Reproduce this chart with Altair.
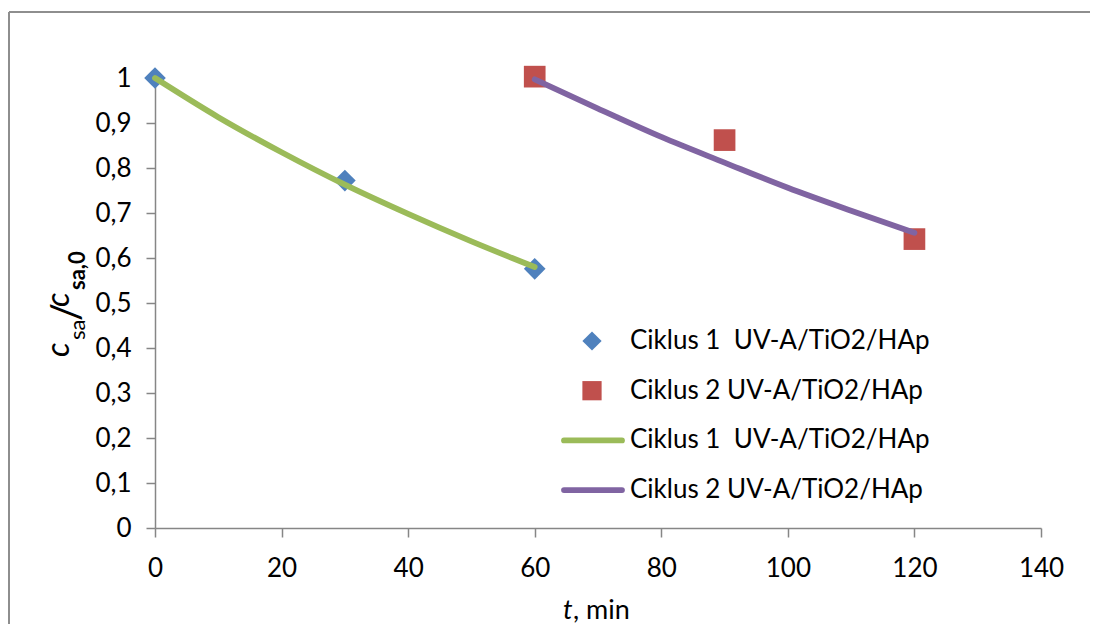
import altair as alt
import pandas as pd

# ---- data ----
series_names = ["Ciklus 1\u00a0 UV-A/TiO2/HAp", "Ciklus 2 UV-A/TiO2/HAp"]
fit_suffix = " (fit)"

t_meas_1 = [0, 30, 60]
v_meas_1 = [1.0, 0.772, 0.576]
t_meas_2 = [60, 90, 120]
v_meas_2 = [1.003, 0.862, 0.642]

t_fit_1 = [0, 10, 20, 30, 40, 50, 60]
v_fit_1 = [1.0, 0.913, 0.835, 0.763, 0.698, 0.637, 0.580]
t_fit_2 = [60, 70, 80, 90, 100, 110, 120]
v_fit_2 = [0.997, 0.932, 0.869, 0.812, 0.756, 0.705, 0.656]

x_ticks = [0, 20, 40, 60, 80, 100, 120, 140]
y_ticks = [0, 0.1, 0.2, 0.3, 0.4, 0.5, 0.6, 0.7, 0.8, 0.9, 1.0]

meas_colors = ["#4F81BD", "#C0504D"]
fit_colors = ["#9BBB59", "#8064A2"]
meas_shapes = ["diamond", "square"]

FONT = "Lato"
AXIS_GRAY = "#868686"

# ---- tables ----
fit_names = [n + fit_suffix for n in series_names]
keys = series_names + fit_names

pts = pd.DataFrame({
    "t": t_meas_1 + t_meas_2,
    "v": v_meas_1 + v_meas_2,
    "key": [series_names[0]] * len(t_meas_1) + [series_names[1]] * len(t_meas_2),
})
fits = pd.DataFrame({
    "t": t_fit_1 + t_fit_2,
    "v": v_fit_1 + v_fit_2,
    "key": [fit_names[0]] * len(t_fit_1) + [fit_names[1]] * len(t_fit_2),
})
leg = pd.DataFrame({
    "key": keys,
    "label": series_names + series_names,
    "row": list(range(len(keys))),
    "kind": ["point"] * len(series_names) + ["line"] * len(fit_names),
})

color_scale = alt.Scale(domain=keys, range=meas_colors + fit_colors)
shape_scale = alt.Scale(domain=series_names, range=meas_shapes)

x_enc = alt.X("t:Q", scale=alt.Scale(domain=[0, 140], nice=False),
              axis=alt.Axis(values=x_ticks, title=None, labelPadding=18, labelFlush=False))
y_enc = alt.Y("v:Q", scale=alt.Scale(domain=[0, 1], nice=False),
              axis=alt.Axis(values=y_ticks, title=None, labelPadding=15, labelFlush=False,
                            labelExpr="replace(format(datum.value, '.1~f'), '.', ',')"))

points = alt.Chart(pts).mark_point(filled=True, size=470, opacity=1).encode(
    x=x_enc, y=y_enc,
    color=alt.Color("key:N", scale=color_scale, legend=None),
    shape=alt.Shape("key:N", scale=shape_scale, legend=None),
)

lines = alt.Chart(fits).mark_line(interpolate="monotone", strokeWidth=5.8,
                                  strokeCap="round", strokeJoin="round").encode(
    x="t:Q", y="v:Q",
    color=alt.Color("key:N", scale=color_scale, legend=None),
    detail="key:N",
)

# ---- legend (built from the legend table) ----
leg_base = alt.Chart(leg).transform_calculate(ly="263 + datum.row * 49.7")
leg_pts = leg_base.transform_filter("datum.kind == 'point'").mark_point(
    filled=True, size=370, opacity=1).encode(
    x=alt.value(437), y=alt.Y("ly:Q", scale=None),
    color=alt.Color("key:N", scale=color_scale, legend=None),
    shape=alt.Shape("key:N", scale=shape_scale, legend=None),
)
leg_lines = leg_base.transform_filter("datum.kind == 'line'").mark_rule(
    strokeWidth=5.8, strokeCap="round").encode(
    x=alt.value(409), x2=alt.value(467), y=alt.Y("ly:Q", scale=None),
    color=alt.Color("key:N", scale=color_scale, legend=None),
)
leg_text = leg_base.mark_text(font=FONT, fontSize=26, align="left", baseline="middle",
                              color="black").encode(
    x=alt.value(475), y=alt.Y("ly:Q", scale=None), text="label:N",
)

one = pd.DataFrame({"k": [0]})

# outer chart frame (decoration)
frame_top = alt.Chart(one).mark_rule(color="#8e8e8e", strokeWidth=2).encode(
    x=alt.value(-146), x2=alt.value(950), y=alt.value(-66))
frame_left = alt.Chart(one).mark_rule(color="#8e8e8e", strokeWidth=2).encode(
    x=alt.value(-146), y=alt.value(-66), y2=alt.value(620))

def txt(s, x, y, size, angle=0, style="normal", weight="normal"):
    kw = dict(text=s, font=FONT, fontSize=size, fontStyle=style, fontWeight=weight,
              align="left", baseline="alphabetic", color="black")
    if angle:
        kw["angle"] = angle
    return alt.Chart(one).mark_text(**kw).encode(x=alt.value(x), y=alt.value(y))

# x-axis title: "t, min" (t italic)
xt1 = txt("t", 408, 541, 27, style="italic")
xt2 = txt(", min", 418, 541, 27)

# y-axis title: c_sa / c_sa,0 (rotated)
yt1 = txt("c", -86.5, 279, 32, angle=270, style="italic")
yt2 = txt("sa", -70, 262, 22, angle=270)
yt3 = txt("/", -75, 243, 40, angle=270)
yt4 = txt("c", -86.5, 229, 32, angle=270, style="italic")
yt5 = txt("sa,0", -70, 212, 22, angle=270, weight="bold")

chart = alt.layer(
    frame_top, frame_left, points, lines, leg_pts, leg_lines, leg_text,
    xt1, xt2, yt1, yt2, yt3, yt4, yt5
).properties(
    width=886, height=450,
    padding={"left": 147, "top": 70, "right": 49, "bottom": 96},
    autosize=alt.AutoSizeParams(type="none"),
    background="white",
).configure_view(stroke=None).configure_axis(
    grid=False, domainColor=AXIS_GRAY, domainWidth=1.5, tickColor=AXIS_GRAY,
    tickWidth=1.5, tickSize=9, labelFont=FONT, labelFontSize=26, labelColor="black",
)

chart.save("out.html", embed_options={"renderer": "svg", "actions": False})
